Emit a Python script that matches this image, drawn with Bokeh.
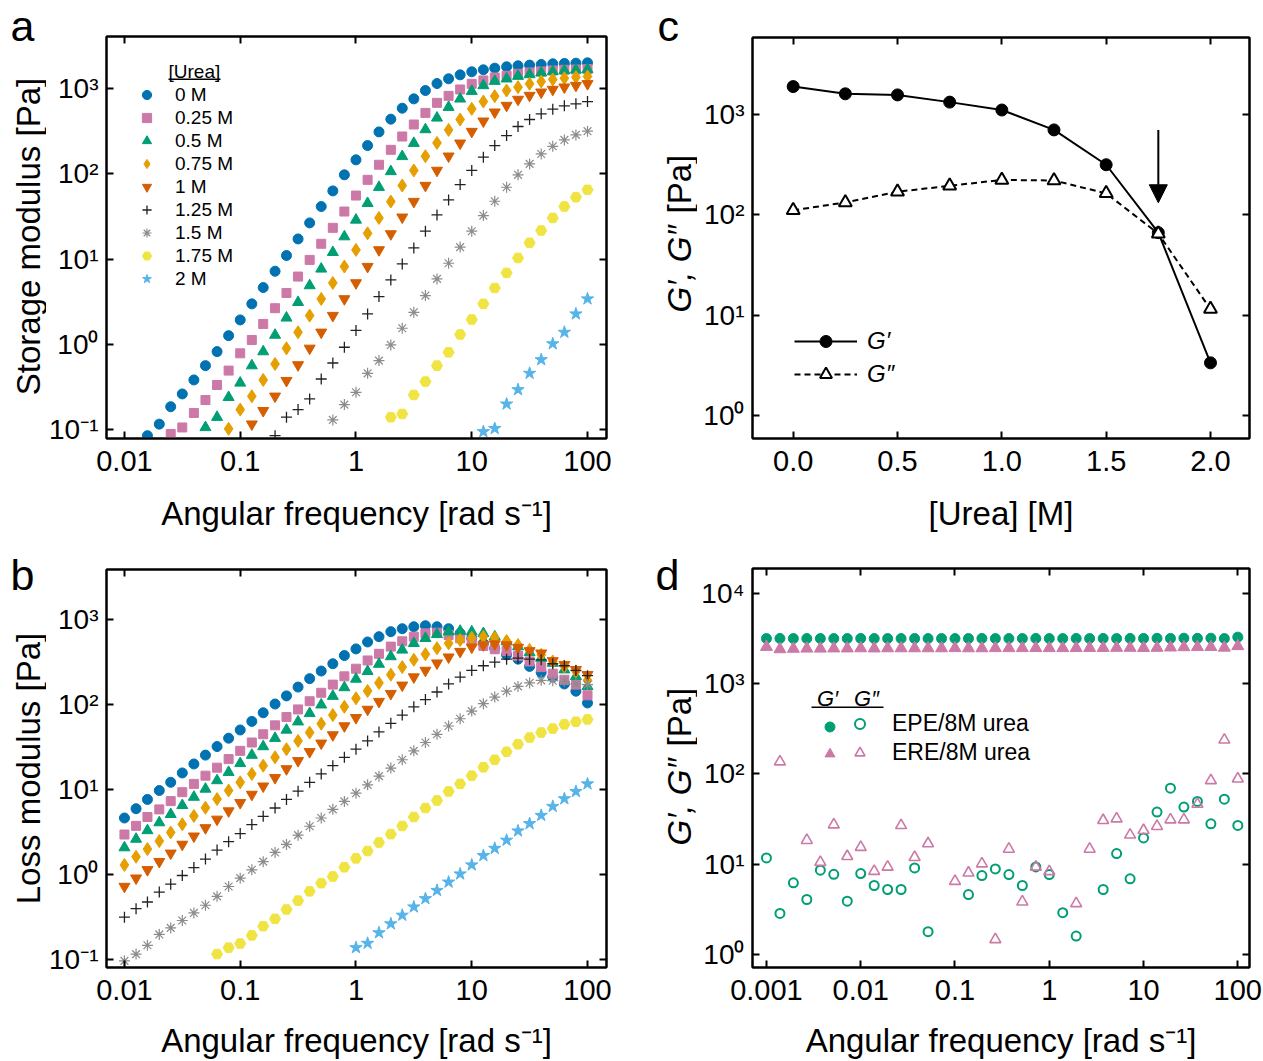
import numpy as np
from bokeh.plotting import figure
from bokeh.models import (Range1d, FixedTicker, CustomJSTickFormatter, LogAxis, LinearAxis,
                          Legend, LegendItem, Label, BoxAnnotation, Arrow, NormalHead)
from bokeh.layouts import row, column
from bokeh.embed import file_html
from bokeh.resources import INLINE

FONT = "Liberation Sans"
NAN = float("nan")

# ---------------- data ----------------
# angular frequency sweep of panels a and b (10 points per decade, 0.01 .. 100 rad/s)
freq_ab = [0.01, 0.0126, 0.0158, 0.0200, 0.0251, 0.0316, 0.0398, 0.0501, 0.0631, 0.0794,
           0.1, 0.126, 0.158, 0.200, 0.251, 0.316, 0.398, 0.501, 0.631, 0.794,
           1.0, 1.26, 1.58, 2.00, 2.51, 3.16, 3.98, 5.01, 6.31, 7.94,
           10.0, 12.6, 15.8, 20.0, 25.1, 31.6, 39.8, 50.1, 63.1, 79.4, 100.0]

urea_names = ["0 M", "0.25 M", "0.5 M", "0.75 M", "1 M", "1.25 M", "1.5 M", "1.75 M", "2 M"]

# storage modulus (panel a); every series ends at 100 rad/s
storage_0 = [0.0857, 0.117, 0.187, 0.264, 0.385, 0.566, 0.826, 1.27, 1.94, 2.99, 4.64, 7.2, 11.0,
             17.2, 26.5, 41.2, 62.8, 96.8, 145, 213, 308, 434, 583, 750, 939, 1134, 1288, 1433,
             1555, 1641, 1717, 1780, 1828, 1862, 1896, 1929, 1946, 1963, 1981]
storage_025 = [0.0897, 0.107, 0.158, 0.224, 0.336, 0.495, 0.789, 1.13, 1.74, 2.66, 4.01, 6.24, 9.78,
               15.1, 23.2, 36.0, 55.4, 84.6, 127, 190, 272, 376, 514, 674, 814, 966, 1126, 1232,
               1335, 1396, 1473, 1527, 1569, 1611, 1641, 1656, 1671]
storage_05 = [0.107, 0.141, 0.241, 0.355, 0.566, 0.826, 1.29, 2.05, 3.12, 4.90, 7.67, 12.0, 18.3,
              28.7, 45.0, 69.3, 106, 159, 227, 328, 449, 599, 750, 922, 1075, 1208, 1288, 1383,
              1446, 1513, 1569, 1611, 1641, 1656]
storage_075 = [0.103, 0.173, 0.248, 0.385, 0.592, 0.903, 1.39, 2.18, 3.42, 5.26, 8.17, 12.8, 20.0,
               30.3, 47.1, 72.6, 109, 160, 229, 325, 430, 573, 698, 807, 939, 1028, 1126, 1198,
               1264, 1310, 1346, 1371]
storage_1 = [0.117, 0.168, 0.248, 0.378, 0.577, 0.903, 1.39, 2.18, 3.42, 5.26, 8.17, 12.8, 19.7,
             30.9, 47.1, 72.6, 109, 160, 227, 311, 411, 524, 627, 738, 821, 898, 966, 1028, 1075, 1126]
storage_125 = [0.0857, 0.141, 0.173, 0.231, 0.395, 0.608, 0.929, 1.46, 2.28, 3.64, 5.70, 8.77, 13.5,
               21.2, 32.9, 49.3, 74.5, 109, 156, 213, 279, 356, 430, 501, 568, 621, 656, 698]
storage_15 = [0.131, 0.198, 0.276, 0.460, 0.648, 0.989, 1.55, 2.38, 3.74, 5.86, 8.93, 13.8, 21.2,
              32.3, 47.5, 69.3, 96.8, 130, 170, 209, 248, 284, 314]
storage_175 = [0.141, 0.154, 0.257, 0.368, 0.566, 0.811, 1.31, 1.96, 2.99, 4.59, 6.89, 10.3, 15.5,
               21.6, 30.3, 41.2, 53.0, 64.6]
storage_2 = [0.0955, 0.104, 0.201, 0.296, 0.460, 0.665, 1.02, 1.39, 2.28, 3.42]

# loss modulus (panel b); every series ends at 100 rad/s
loss_0 = [4.60, 5.92, 7.61, 9.69, 12.1, 15.6, 19.9, 25.3, 31.9, 40.0, 50.0, 63.1, 79.7, 101, 126,
          160, 201, 247, 301, 376, 450, 543, 627, 718, 778, 821, 844, 821, 778, 686, 600, 524, 458,
          383, 341, 280, 238, 210, 174, 143, 104]
loss_025 = [2.94, 3.72, 4.73, 5.81, 7.27, 9.26, 11.6, 14.5, 18.0, 22.7, 28.4, 35.6, 44.5, 56.7, 71.0,
            87.3, 109, 137, 171, 214, 263, 329, 394, 479, 553, 627, 686, 698, 656, 600, 548, 488,
            446, 426, 373, 320, 275, 230, 195, 171, 128]
loss_05 = [2.06, 2.60, 3.28, 4.06, 5.08, 6.48, 8.11, 10.1, 12.7, 15.9, 20.2, 25.3, 31.9, 40.0, 50.0,
           62.5, 78.3, 98.9, 125, 158, 199, 245, 298, 366, 438, 524, 600, 667, 717, 730, 717, 686,
           627, 548, 479, 408, 350, 306, 256, 214, 163]
loss_075 = [1.29, 1.61, 1.98, 2.46, 3.11, 3.88, 4.86, 6.08, 7.68, 9.69, 12.1, 15.2, 19.0, 23.8, 29.7,
            37.2, 46.6, 59.3, 74.9, 93.7, 118, 144, 179, 224, 275, 335, 390, 458, 524, 573, 610, 627,
            610, 558, 501, 438, 383, 320, 280, 245, 192]
loss_1 = [0.719, 0.901, 1.13, 1.41, 1.77, 2.25, 2.81, 3.52, 4.44, 5.56, 6.96, 8.71, 10.9, 13.7, 17.4,
          21.7, 27.7, 34.9, 43.7, 55.7, 69.7, 87.3, 108, 134, 168, 210, 251, 306, 360, 419, 471, 501,
          515, 501, 467, 427, 401, 326, 293, 256, 224]
loss_125 = [0.313, 0.394, 0.472, 0.618, 0.766, 0.968, 1.20, 1.51, 1.93, 2.42, 3.02, 3.85, 4.82, 6.03,
            7.61, 9.52, 12.1, 15.2, 19.0, 23.8, 29.7, 37.2, 47.4, 59.8, 74.9, 93.7, 114, 140, 174,
            210, 251, 285, 314, 341, 350, 341, 335, 301, 285, 251, 218]
loss_15 = [0.0958, 0.115, 0.146, 0.196, 0.234, 0.286, 0.351, 0.432, 0.550, 0.719, 0.901, 1.13, 1.41,
           1.81, 2.25, 2.89, 3.68, 4.60, 5.82, 7.21, 9.02, 11.3, 14.3, 17.8, 22.3, 28.4, 35.6, 44.5,
           55.7, 67.8, 83.4, 102, 122, 143, 163, 179, 192, 190, 187, 174, 171]
loss_175 = [0.115, 0.137, 0.153, 0.191, 0.245, 0.299, 0.385, 0.490, 0.630, 0.787, 0.942, 1.21, 1.54,
            1.88, 2.37, 2.97, 3.71, 4.73, 6.03, 7.41, 9.44, 11.6, 14.5, 18.2, 22.3, 27.7, 34.0, 40.7,
            46.6, 51.9, 58.2, 62.5, 66.6]
loss_2 = [0.137, 0.154, 0.205, 0.261, 0.330, 0.413, 0.517, 0.646, 0.809, 1.01, 1.29, 1.66, 2.02,
          2.52, 3.24, 3.95, 4.94, 6.30, 7.75, 9.44, 11.6]

# panel c: plateau moduli vs urea concentration
urea_conc = [0.0, 0.25, 0.5, 0.75, 1.0, 1.25, 1.5, 1.75, 2.0]
g_storage_c = [1900, 1610, 1570, 1330, 1110, 703, 316, 66.5, 3.35]
g_loss_c = [111, 133, 170, 195, 223, 220, 164, 65, 11.5]
crossover_urea = 1.75          # arrow marks the crossover
arrow_from, arrow_to = 700, 132

# panel d: frequency sweep 0.001 .. 100 rad/s (7 points per decade)
freq_d = [0.001, 0.00139, 0.00193, 0.00268, 0.00373, 0.00518, 0.00720,
          0.01, 0.0139, 0.0193, 0.0268, 0.0373, 0.0518, 0.0720,
          0.1, 0.139, 0.193, 0.268, 0.373, 0.518, 0.720,
          1.0, 1.39, 1.93, 2.68, 3.73, 5.18, 7.20,
          10.0, 13.9, 19.3, 26.8, 37.3, 51.8, 72.0, 100.0]
epe_storage = [3180, 3190, 3180, 3180, 3180, 3180, 3180, 3190, 3180, 3180, 3180, 3180, 3180, 3180,
               3180, 3180, 3190, 3180, 3180, 3180, 3190, 3180, 3180, 3190, 3180, 3190, 3180, 3190,
               3190, 3200, 3190, 3210, 3200, 3210, 3180, 3300]
ere_storage = [2570, 2420, 2450, 2460, 2460, 2470, 2470, 2480, 2470, 2480, 2480, 2480, 2480, 2480,
               2490, 2480, 2480, 2490, 2490, 2490, 2500, 2490, 2490, 2500, 2500, 2500, 2510, 2510,
               2500, 2510, 2530, 2550, 2560, 2560, 2520, 2620]
epe_loss = [11.7, 2.84, 6.2, 4.05, 8.56, 7.7, 3.88, 7.86, 5.79, 5.23, 5.23, 9.08, 1.78, NAN, NAN,
            4.6, 7.46, 8.85, 7.66, 5.79, 9.3, 7.66, 2.89, 1.59, NAN, 5.23, 13.1, 6.86, 19.5, 37.8,
            69.6, 43.0, 49.6, 28.0, 52.6, 26.9]
ere_loss = [NAN, 137, NAN, 18.4, 10.5, 27.4, 12.2, 15.4, 8.34, 9.3, 26.9, 11.9, 16.9, NAN, 6.46,
            8.0, 10.1, 1.46, 14.7, 3.82, 9.3, 8.3, NAN, 3.66, 14.7, 30.6, 31.9, 21.1, 23.7, 26.3,
            31.1, 31.1, 46.3, 84.8, 239, 88.4]

# ---------------- styles ----------------
series_styles = [
    dict(marker="circle", size=10, color="#0072B2"),
    dict(marker="square", size=9, color="#CC79A7"),
    dict(marker="triangle", size=11, color="#009E73"),
    dict(marker="diamond", size=13, color="#E69F00"),
    dict(marker="inverted_triangle", size=11, color="#D55E00"),
    dict(marker="cross", size=11, color="#222222", line_width=1.3),
    dict(marker="asterisk", size=11, color="#8c8c8c", line_width=1.2),
    dict(marker="hex", size=11, color="#F0E442"),
    dict(marker="star", size=13, color="#56B4E9"),
]

PAGE_H = 1061
LETTER = "43px"


def x_num_fmt():
    return CustomJSTickFormatter(code="return tick >= 1 ? tick.toFixed(0) : tick.toPrecision(1);")


def pow_fmt():
    return CustomJSTickFormatter(code=r"""
const e = Math.round(Math.log10(tick));
const sup = {"0": "\u2070", "1": "\u00b9", "2": "\u00b2", "3": "\u00b3", "4": "\u2074", "-": "\u207b"};
let s = "";
for (const c of String(e)) { s += sup[c]; }
return "10" + s;
""")


def blank_fmt():
    return CustomJSTickFormatter(code="return '';")


def make_panel(width, height, borders, x_range, y_range, x_log, x_ticks, y_ticks, x_fmt):
    left, right, top, bottom = borders
    p = figure(width=width, height=height,
               x_axis_type="log" if x_log else "linear", y_axis_type="log",
               x_range=Range1d(*x_range), y_range=Range1d(*y_range),
               output_backend="svg", toolbar_location=None,
               min_border_left=left, min_border_right=right,
               min_border_top=top, min_border_bottom=bottom)
    p.grid.visible = False
    p.outline_line_color = "black"
    p.outline_line_width = 2
    p.border_fill_color = "white"
    XAxis = LogAxis if x_log else LinearAxis
    top_ax = XAxis()
    right_ax = LogAxis()
    p.add_layout(top_ax, "above")
    p.add_layout(right_ax, "right")
    bottom_ax = p.below[0]
    left_ax = p.left[0]
    for ax, ticks in ((bottom_ax, x_ticks), (top_ax, x_ticks), (left_ax, y_ticks), (right_ax, y_ticks)):
        ax.ticker = FixedTicker(ticks=ticks)
        ax.major_tick_in = 7
        ax.major_tick_out = 0
        ax.major_tick_line_width = 2
        ax.minor_tick_line_color = None
        ax.axis_line_width = 2
        ax.major_label_text_font = FONT
        ax.major_label_text_color = "black"
        ax.major_label_standoff = 8
        ax.axis_label_text_font = FONT
        ax.axis_label_text_font_size = "33px"
        ax.axis_label_text_font_style = "normal"
        ax.axis_label_text_color = "black"
    bottom_ax.formatter = x_fmt
    bottom_ax.major_label_text_font_size = "29px"
    bottom_ax.major_label_standoff = 12
    left_ax.formatter = pow_fmt()
    left_ax.major_label_text_font_size = "28px"
    for ax in (top_ax, right_ax):
        ax.formatter = blank_fmt()
        ax.major_label_text_font_size = "0px"
        ax.major_label_standoff = 0
    return p, bottom_ax, left_ax


def make_strip(width):
    s = figure(width=width, height=PAGE_H, x_range=Range1d(0, 1), y_range=Range1d(0, 1),
               x_axis_type=None, y_axis_type=None, output_backend="svg", toolbar_location=None,
               min_border=0)
    s.outline_line_color = None
    s.grid.visible = False
    return s


def add_label(p, x, y, text, size, style="normal", angle=0.0, align="left", baseline="alphabetic"):
    p.add_layout(Label(x=x, y=y, x_units="screen", y_units="screen", text=text, angle=angle,
                       text_font=FONT, text_font_size=size, text_font_style=style,
                       text_align=align, text_baseline=baseline, text_color="black"))


def add_underline(p, left, right, bottom, top):
    p.add_layout(BoxAnnotation(left=left, right=right, bottom=bottom, top=top,
                               left_units="screen", right_units="screen",
                               bottom_units="screen", top_units="screen",
                               fill_color="black", fill_alpha=1.0, line_color=None))


def tail(xs, ys):
    return xs[len(xs) - len(ys):]


freq_ticks_ab = [0.01, 0.1, 1, 10, 100]
xr_ab = (10 ** -2.155, 10 ** 2.164)

# ---------------- left strip: panel letters a, b and y titles ----------------
strip_l = make_strip(46)
add_label(strip_l, 10, PAGE_H - 25, "a", LETTER)
add_label(strip_l, 10, PAGE_H - 574, "b", LETTER)
add_label(strip_l, 27.5, PAGE_H - 236, "Storage modulus [Pa]", "33px", angle=np.pi / 2,
          align="center", baseline="middle")
add_label(strip_l, 27.5, PAGE_H - 768, "Loss modulus [Pa]", "33px", angle=np.pi / 2,
          align="center", baseline="middle")

# ---------------- panel a ----------------
pa, pa_x, pa_y = make_panel(584, 553, (60, 23, 36, 115), xr_ab, (10 ** -1.10, 10 ** 3.605),
                            True, freq_ticks_ab, [0.1, 1, 10, 100, 1000], x_num_fmt())
pa_x.axis_label = "Angular frequency [rad s\u207b\u00b9]"
pa_x.axis_label_standoff = 21
storage_series = [storage_0, storage_025, storage_05, storage_075, storage_1,
                  storage_125, storage_15, storage_175, storage_2]
rend_a = []
for ys, st in zip(storage_series, series_styles):
    st = dict(st)
    col = st.pop("color")
    rend_a.append(pa.scatter(tail(freq_ab, ys), ys, fill_color=col, line_color=col, **st))
leg_a = Legend(items=[LegendItem(label=n, renderers=[r]) for n, r in zip(urea_names, rend_a)],
               location=(29, 148), glyph_width=23, glyph_height=23, label_height=23, spacing=0,
               padding=10, margin=0, label_standoff=17, border_line_color=None,
               background_fill_alpha=0, label_text_font=FONT, label_text_font_size="19px",
               label_text_color="black")
pa.add_layout(leg_a)
add_label(pa, 62, 367, "[Urea]", "19px", baseline="middle")
add_underline(pa, 62, 114, 358.5, 360)

# ---------------- panel b ----------------
pb, pb_x, pb_y = make_panel(584, 508, (60, 24, 16, 91), xr_ab, (10 ** -1.097, 10 ** 3.588),
                            True, freq_ticks_ab, [0.1, 1, 10, 100, 1000], x_num_fmt())
pb_x.axis_label = "Angular frequency [rad s\u207b\u00b9]"
pb_x.axis_label_standoff = 19
loss_series = [loss_0, loss_025, loss_05, loss_075, loss_1, loss_125, loss_15, loss_175, loss_2]
for ys, st in zip(loss_series, series_styles):
    st = dict(st)
    col = st.pop("color")
    pb.scatter(tail(freq_ab, ys), ys, fill_color=col, line_color=col, **st)

# ---------------- right strip: panel letters c, d and y titles ----------------
strip_r = make_strip(67)
add_label(strip_r, 27, PAGE_H - 25, "c", LETTER)
add_label(strip_r, 25, PAGE_H - 574, "d", LETTER)
add_label(strip_r, 48.5, PAGE_H - 312, "G\u2032, G\u2033", "33px", style="italic", angle=np.pi / 2,
          baseline="middle")
add_label(strip_r, 48.5, PAGE_H - 213, "[Pa]", "33px", angle=np.pi / 2, baseline="middle")
add_label(strip_r, 48.5, PAGE_H - 845, "G\u2032, G\u2033", "33px", style="italic", angle=np.pi / 2,
          baseline="middle")
add_label(strip_r, 48.5, PAGE_H - 746, "[Pa]", "33px", angle=np.pi / 2, baseline="middle")

# ---------------- panel c ----------------
pc, pc_x, pc_y = make_panel(566, 553, (55, 14, 37, 115), (-0.195, 2.187), (10 ** -0.229, 10 ** 3.768),
                            False, [0.0, 0.5, 1.0, 1.5, 2.0], [1, 10, 100, 1000],
                            CustomJSTickFormatter(code="return tick.toFixed(1);"))
pc_x.axis_label = "[Urea] [M]"
pc_x.axis_label_standoff = 21
l1 = pc.line(urea_conc, g_storage_c, line_color="black", line_width=2)
l2 = pc.line(urea_conc, g_loss_c, line_color="black", line_width=2, line_dash="6 4")
m1 = pc.scatter(urea_conc, g_storage_c, marker="circle", size=12, fill_color="black", line_color="black")
m2 = pc.scatter(urea_conc, g_loss_c, marker="triangle", size=13, fill_color="white",
                line_color="black", line_width=2)
pc.add_layout(Arrow(end=NormalHead(size=18, fill_color="black", line_color="black", line_width=1),
                    x_start=crossover_urea, y_start=arrow_from, x_end=crossover_urea, y_end=arrow_to,
                    line_color="black", line_width=2))
leg_c = Legend(items=[LegendItem(label="G\u2032", renderers=[l1, m1]),
                      LegendItem(label="G\u2033", renderers=[l2, m2])],
               location=(42, 49), glyph_width=63, glyph_height=30, label_height=30, spacing=3,
               padding=10, margin=0, label_standoff=10, border_line_color=None,
               background_fill_alpha=0, label_text_font=FONT, label_text_font_size="24px",
               label_text_font_style="italic", label_text_color="black")
pc.add_layout(leg_c)

# ---------------- panel d ----------------
pd_, pd_x, pd_y = make_panel(566, 508, (55, 14, 15, 93), (10 ** -3.148, 10 ** 2.124),
                             (10 ** -0.147, 10 ** 4.28), True,
                             [0.001, 0.01, 0.1, 1, 10, 100], [1, 10, 100, 1000, 10000], x_num_fmt())
pd_x.axis_label = "Angular frequency [rad s\u207b\u00b9]"
pd_x.axis_label_standoff = 19
GREEN, PINK = "#009E73", "#CC79A7"
d1 = pd_.scatter(freq_d, epe_storage, marker="circle", size=10, fill_color=GREEN, line_color=GREEN)
d2 = pd_.scatter(freq_d, ere_storage, marker="triangle", size=12, fill_color=PINK, line_color=PINK)
d3 = pd_.scatter(freq_d, epe_loss, marker="circle", size=9, fill_color=None, line_color=GREEN, line_width=2)
d4 = pd_.scatter(freq_d, ere_loss, marker="triangle", size=11, fill_color=None, line_color=PINK, line_width=1.6)
leg_d1 = Legend(items=[LegendItem(label="", renderers=[d1]), LegendItem(label="", renderers=[d2])],
                location=(65, 201), glyph_width=25, glyph_height=25, label_height=25, spacing=2,
                padding=10, margin=0, label_standoff=0, border_line_color=None,
                background_fill_alpha=0, label_text_font=FONT, label_text_font_size="23px")
leg_d2 = Legend(items=[LegendItem(label="EPE/8M urea", renderers=[d3]),
                       LegendItem(label="ERE/8M urea", renderers=[d4])],
                location=(95, 201), glyph_width=25, glyph_height=25, label_height=25, spacing=2,
                padding=10, margin=0, label_standoff=20, border_line_color=None,
                background_fill_alpha=0, label_text_font=FONT, label_text_font_size="23px",
                label_text_color="black")
pd_.add_layout(leg_d1)
pd_.add_layout(leg_d2)
add_label(pd_, 75, 269, "G\u2032", "22px", style="italic", align="center", baseline="middle")
add_label(pd_, 114, 269, "G\u2033", "22px", style="italic", align="center", baseline="middle")
add_underline(pd_, 59, 131, 259.5, 261)

layout = row(strip_l, column(pa, pb), strip_r, column(pc, pd_))
open("out.html", "w", encoding="utf-8").write(file_html(layout, INLINE))
